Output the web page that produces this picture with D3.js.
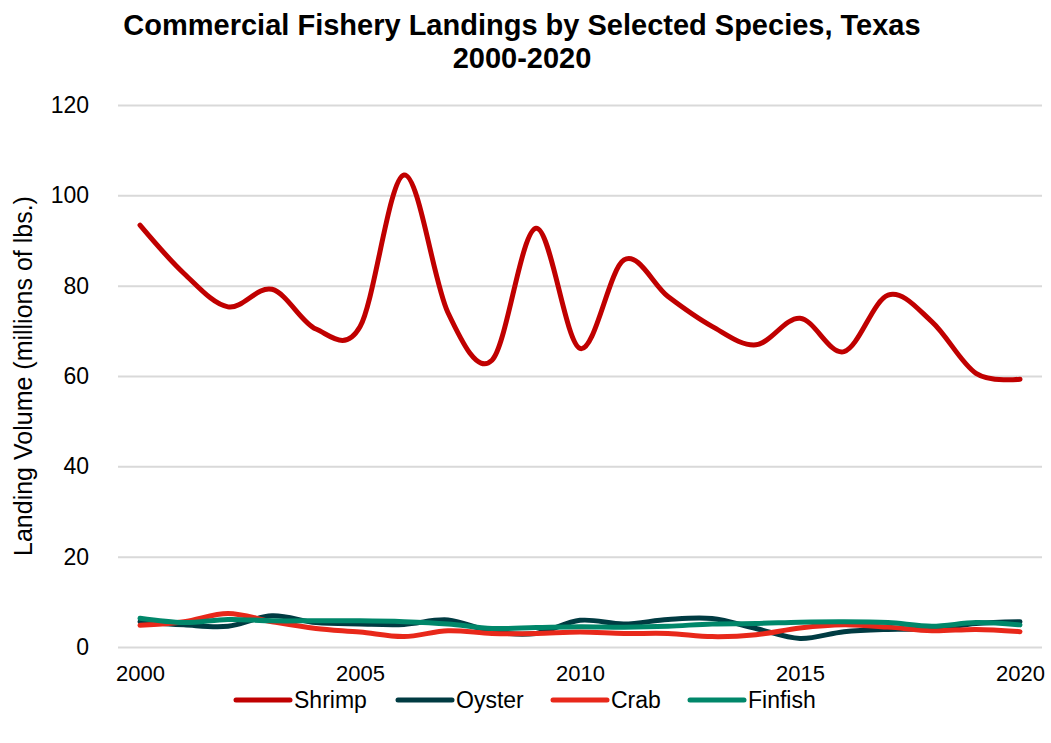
<!DOCTYPE html>
<html>
<head>
<meta charset="utf-8">
<script src="https://d3js.org/d3.v7.min.js"></script>
<style>
  body { margin: 0; background: #ffffff; }
  text { font-family: "Liberation Sans", Arial, sans-serif; }
</style>
</head>
<body>
<script>
// data (millions of lbs.)
var years = [2000, 2001, 2002, 2003, 2004, 2005, 2006, 2007, 2008, 2009, 2010,
             2011, 2012, 2013, 2014, 2015, 2016, 2017, 2018, 2019, 2020];
var shrimp = [93.4, 82.7, 75.3, 79.2, 70.4, 70.9, 104.5, 74.0, 63.5, 92.7, 66.1,
              85.7, 77.6, 71.0, 66.9, 72.8, 65.4, 77.9, 72.0, 60.6, 59.3];
var oyster = [5.6, 4.9, 4.6, 6.9, 5.4, 5.1, 5.0, 6.0, 3.4, 3.0, 5.9,
              5.1, 6.1, 6.3, 4.1, 1.9, 3.4, 3.9, 4.0, 5.2, 5.6];
var crab = [4.8, 5.6, 7.4, 5.6, 4.1, 3.3, 2.3, 3.6, 3.0, 3.0, 3.3,
            3.0, 3.0, 2.3, 2.7, 4.2, 4.9, 4.4, 3.6, 3.9, 3.4];
var finfish = [6.35, 5.4, 6.1, 5.8, 5.8, 5.8, 5.6, 5.1, 4.1, 4.3, 4.5,
               4.4, 4.6, 5.1, 5.2, 5.5, 5.6, 5.4, 4.6, 5.4, 4.9];
var yTicks = [0, 20, 40, 60, 80, 100, 120];
var xTicks = [2000, 2005, 2010, 2015, 2020];

var seriesNames = ["Shrimp", "Oyster", "Crab", "Finfish"];
var seriesValues = [shrimp, oyster, crab, finfish];
var seriesColors = ["#C00000", "#003B42", "#E8281A", "#00876A"];

// sizes
var widthSvg = 1051;
var heightSvg = 743;
var gridLeft = 118;
var gridRight = 1042;

var svg = d3.select("body")
            .append("svg")
            .attr("width", widthSvg)
            .attr("height", heightSvg);

// scales
var scaleX = d3.scaleLinear()
               .domain([2000, 2020])
               .range([140, 1020]);
var scaleY = d3.scaleLinear()
               .domain([0, 120])
               .range([647, 105]);

// horizontal grid lines through the y axis
var yAxis = d3.axisLeft(scaleY)
              .tickValues(yTicks)
              .tickSize(-(gridRight - gridLeft))
              .tickPadding(29);
svg.append("g")
   .attr("class", "yaxis")
   .attr("transform", "translate(" + gridLeft + ",0)")
   .call(yAxis)
   .call(function(g) {
      g.select(".domain").remove();
      g.selectAll(".tick line").attr("stroke", "#D9D9D9").attr("stroke-width", 2);
      g.selectAll(".tick text")
       .attr("fill", "#000")
       .attr("font-size", "23px")
       .attr("font-family", "'Liberation Sans', Arial, sans-serif");
   });

// x axis labels, no ticks
var xAxis = d3.axisBottom(scaleX)
              .tickValues(xTicks)
              .tickFormat(d3.format("d"))
              .tickSize(0)
              .tickPadding(18);
svg.append("g")
   .attr("class", "xaxis")
   .attr("transform", "translate(0,647)")
   .call(xAxis)
   .call(function(g) {
      g.select(".domain").remove();
      g.selectAll(".tick text")
       .attr("fill", "#000")
       .attr("font-size", "22px")
       .attr("font-family", "'Liberation Sans', Arial, sans-serif");
   });

// smoothed lines like the excel chart
var line = d3.line()
             .x(function(d, i) { return scaleX(years[i]); })
             .y(function(d) { return scaleY(d); })
             .curve(d3.curveCardinal.tension(0));

seriesValues.forEach(function(values, k) {
  svg.append("path")
     .datum(values)
     .attr("d", line)
     .attr("fill", "none")
     .attr("stroke", seriesColors[k])
     .attr("stroke-width", 5)
     .attr("stroke-linecap", "round")
     .attr("stroke-linejoin", "round");
});

// title
svg.append("text")
   .attr("x", 522)
   .attr("y", 35)
   .attr("text-anchor", "middle")
   .attr("font-size", "29px")
   .attr("font-weight", "bold")
   .text("Commercial Fishery Landings by Selected Species, Texas");
svg.append("text")
   .attr("x", 522)
   .attr("y", 68)
   .attr("text-anchor", "middle")
   .attr("font-size", "29px")
   .attr("font-weight", "bold")
   .text("2000-2020");

// y axis title
svg.append("text")
   .attr("transform", "translate(32,376) rotate(-90)")
   .attr("text-anchor", "middle")
   .attr("font-size", "25px")
   .text("Landing Volume (millions of lbs.)");

// legend
var legendX = [236, 398, 553, 690];
var legend = svg.selectAll(".legend")
                .data(seriesNames)
                .enter()
                .append("g")
                .attr("class", "legend")
                .attr("transform", function(d, i) { return "translate(" + legendX[i] + ",700)"; });
legend.append("line")
      .attr("x1", 0)
      .attr("x2", 54)
      .attr("stroke", function(d, i) { return seriesColors[i]; })
      .attr("stroke-width", 5)
      .attr("stroke-linecap", "round");
legend.append("text")
      .attr("x", 58)
      .attr("y", 8)
      .attr("font-size", "23px")
      .text(function(d) { return d; });
</script>
</body>
</html>
